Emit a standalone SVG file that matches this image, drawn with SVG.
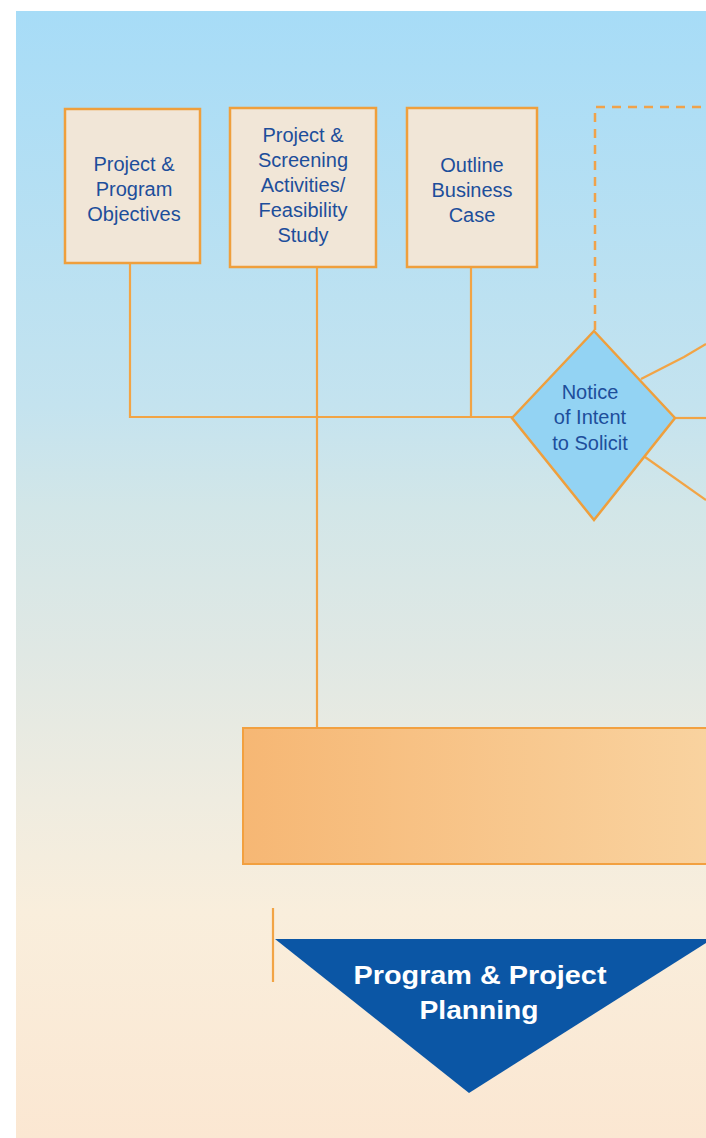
<svg xmlns="http://www.w3.org/2000/svg" width="706" height="1138" viewBox="0 0 706 1138">
<defs>
<linearGradient id="bg" x1="0" y1="0" x2="0" y2="1">
<stop offset="0" stop-color="#a7dcf7"/>
<stop offset="0.35" stop-color="#c4e3ef"/>
<stop offset="0.44" stop-color="#d2e6e8"/>
<stop offset="0.57" stop-color="#e0e8e4"/>
<stop offset="0.7" stop-color="#efece0"/>
<stop offset="0.8" stop-color="#f9eedc"/>
<stop offset="1" stop-color="#fbe7d2"/>
</linearGradient>
<linearGradient id="bar" x1="0" y1="0" x2="1" y2="0">
<stop offset="0" stop-color="#f6b774"/>
<stop offset="1" stop-color="#f9d3a0"/>
</linearGradient>
<style>
.box{fill:#f1e6d7;stroke:#ef9f3c;stroke-width:2.5}
.lbl{font-family:"Liberation Sans",Arial,sans-serif;font-size:20px;fill:#1d4e9b;text-anchor:middle}
.ln{stroke:#f2a445;stroke-width:2.2;fill:none}
.dash{stroke:#f0a24a;stroke-width:2.5;fill:none;stroke-dasharray:9 7}
.big{font-family:"Liberation Sans",Arial,sans-serif;font-size:25px;font-weight:bold;fill:#ffffff;text-anchor:middle}
</style>
</defs>
<rect x="16" y="11" width="690" height="1127" fill="url(#bg)"/>
<g id="connectors">
<path class="ln" d="M130,263 V417 H512"/>
<path class="ln" d="M317,267 V728"/>
<path class="ln" d="M471,267 V417"/>
<path class="dash" d="M595,330 V107 H706"/>
<path class="ln" d="M641,379 L684,357 L706,344"/>
<path class="ln" d="M675,418 H706"/>
<path class="ln" d="M645,457 L706,500"/>
<path class="ln" d="M273,908 V982"/>
</g>
<g id="n1">
<rect class="box" x="65" y="109" width="135" height="154"/>
<text class="lbl" x="134" y="171">Project &amp;</text>
<text class="lbl" x="134" y="196">Program</text>
<text class="lbl" x="134" y="221">Objectives</text>
</g>
<g id="n2">
<rect class="box" x="230" y="108" width="146" height="159"/>
<text class="lbl" x="303" y="142">Project &amp;</text>
<text class="lbl" x="303" y="167">Screening</text>
<text class="lbl" x="303" y="192">Activities/</text>
<text class="lbl" x="303" y="217">Feasibility</text>
<text class="lbl" x="303" y="242">Study</text>
</g>
<g id="n3">
<rect class="box" x="407" y="108" width="130" height="159"/>
<text class="lbl" x="472" y="172">Outline</text>
<text class="lbl" x="472" y="197">Business</text>
<text class="lbl" x="472" y="222">Case</text>
</g>
<g id="n4">
<polygon points="594,331 675,418 594,520 512,418" fill="#93d3f3" stroke="#ef9f3c" stroke-width="2.5"/>
<text class="lbl" x="590" y="399">Notice</text>
<text class="lbl" x="590" y="424">of Intent</text>
<text class="lbl" x="590" y="450">to Solicit</text>
</g>
<g id="n5">
<rect x="243" y="728" width="470" height="136" fill="url(#bar)" stroke="#f2a040" stroke-width="2"/>
</g>
<g id="n6">
<polygon points="275,939 706,939 706,943 469,1093" fill="#0b56a5"/>
<text class="big" x="480" y="984" textLength="253" lengthAdjust="spacingAndGlyphs">Program &amp; Project</text>
<text class="big" x="479" y="1019" textLength="119" lengthAdjust="spacingAndGlyphs">Planning</text>
</g>
</svg>
